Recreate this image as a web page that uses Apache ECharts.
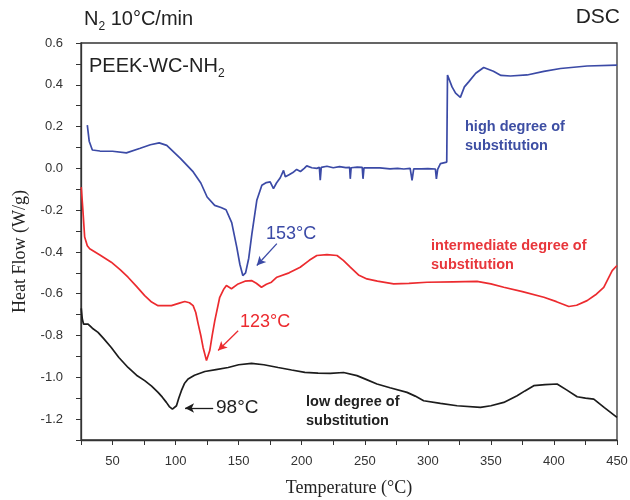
<!DOCTYPE html>
<html>
<head>
<meta charset="utf-8">
<script src="https://cdn.jsdelivr.net/npm/echarts@6/dist/echarts.min.js"></script>
<style>
  html, body { margin: 0; padding: 0; background: #fff; }
  #chart { width: 630px; height: 500px; }
</style>
</head>
<body>
<div id="chart"></div>
<script>
// temperature (°C) / heat flow (W/g)
const highT = [30, 31.5, 34, 40, 50, 61, 72, 80, 87, 93, 104, 114, 120, 125, 131, 136, 140, 144.5, 148.5, 151, 153.3, 155.5, 158, 160.5, 164.4, 168.4, 172, 175, 177.6, 180, 183, 185.6, 187, 190, 193, 196, 199, 202, 204, 208, 212, 214, 214.7, 215.5, 220, 225, 230, 235, 238, 238.5, 239.2, 244, 248, 248.6, 249.4, 255, 262, 270, 276, 281, 286, 287.5, 288.8, 295, 300, 306, 306.8, 307.8, 310, 315, 315.6, 319.2, 322, 325.8, 329, 332.4, 338, 344.3, 352, 358, 365.5, 378.7, 392, 405.2, 426.3, 450];
const highHF = [0.207, 0.13, 0.088, 0.083, 0.082, 0.074, 0.096, 0.113, 0.122, 0.11, 0.047, -0.017, -0.07, -0.137, -0.177, -0.187, -0.198, -0.26, -0.377, -0.46, -0.513, -0.5, -0.43, -0.313, -0.153, -0.081, -0.068, -0.065, -0.097, -0.07, -0.045, -0.01, -0.04, -0.03, -0.02, -0.005, -0.015, 0.0, 0.012, 0.003, 0.0, 0.005, -0.057, 0.005, 0.01, 0.003, 0.008, 0.004, 0.005, -0.05, 0.003, 0.006, 0.005, -0.05, 0.003, 0.002, 0.002, -0.002, 0.0, -0.003, 0.0, -0.057, -0.002, -0.002, -0.001, -0.003, -0.05, -0.005, 0.023, 0.03, 0.447, 0.39, 0.36, 0.34, 0.39, 0.414, 0.455, 0.483, 0.465, 0.445, 0.442, 0.447, 0.464, 0.478, 0.49, 0.494];

const midT = [25.2, 26.5, 27.9, 30, 31.9, 40, 49, 56, 62.3, 69, 75.5, 81, 86.1, 96.7, 103, 107.3, 111, 113.9, 116, 117.9, 120, 121.8, 124.5, 127.1, 129, 131.1, 135, 138, 140.3, 144.3, 149.6, 155, 160.2, 164, 168.1, 172, 176, 180.3, 190, 198.8, 206, 212, 220, 228, 233, 238.5, 245, 251.7, 260, 272.9, 285, 299.4, 320, 339, 350, 360.2, 375, 392, 402, 411.8, 418, 426.3, 433, 439.5, 446.2, 450];
const midHF = [-0.09, -0.2, -0.329, -0.37, -0.385, -0.415, -0.449, -0.485, -0.521, -0.565, -0.609, -0.64, -0.657, -0.657, -0.645, -0.637, -0.643, -0.657, -0.69, -0.744, -0.8, -0.857, -0.92, -0.872, -0.8, -0.729, -0.617, -0.58, -0.561, -0.576, -0.553, -0.54, -0.537, -0.55, -0.569, -0.555, -0.545, -0.521, -0.5, -0.473, -0.44, -0.417, -0.413, -0.417, -0.44, -0.473, -0.51, -0.529, -0.54, -0.553, -0.55, -0.545, -0.543, -0.541, -0.553, -0.569, -0.59, -0.617, -0.638, -0.661, -0.655, -0.633, -0.605, -0.569, -0.489, -0.465];

const lowT = [25.2, 26, 27, 28.5, 30.6, 34, 38.5, 43, 49, 55, 62.3, 69, 75.5, 81, 86.1, 89.5, 92.7, 95, 97.5, 99, 100.7, 102.5, 104.6, 107, 109.9, 115, 123.2, 132, 141.7, 150, 160.2, 170, 181.3, 192, 202.5, 213, 222.6, 233.2, 243.8, 251, 259.7, 270, 283.5, 290, 296.7, 310, 323.2, 341.7, 350, 360.2, 370.8, 377, 384, 393, 402.5, 410, 418.4, 425, 431.6, 440, 450];
const lowHF = [-0.67, -0.72, -0.745, -0.74, -0.745, -0.765, -0.785, -0.815, -0.857, -0.905, -0.953, -0.99, -1.016, -1.042, -1.072, -1.095, -1.12, -1.14, -1.152, -1.15, -1.136, -1.1, -1.064, -1.03, -1.008, -0.99, -0.972, -0.963, -0.953, -0.94, -0.933, -0.94, -0.953, -0.965, -0.976, -0.98, -0.981, -0.977, -0.992, -1.01, -1.032, -1.05, -1.072, -1.09, -1.112, -1.125, -1.136, -1.144, -1.136, -1.12, -1.088, -1.065, -1.04, -1.035, -1.032, -1.06, -1.093, -1.1, -1.104, -1.145, -1.192];

const BLUE = '#3b4aa6';
const RED = '#ec2b2f';
const BLACK = '#1c1c1c';
const sans = "'Liberation Sans', Arial, sans-serif";
const serif = "'Liberation Serif', 'Times New Roman', serif";

const pairs = (xs, ys) => xs.map((x, i) => [x, ys[i]]);

// arrow pointing at a peak, in data coordinates
function arrow(from, to, color) {
  return {
    silent: true,
    symbol: ['none', 'arrow'],
    symbolSize: [7, 9],
    label: { show: false },
    lineStyle: { color: color, width: 1.3, type: 'solid' },
    data: [[{ coord: from }, { coord: to }]]
  };
}

function curve(name, xs, ys, color, mark) {
  return {
    name: name,
    type: 'line',
    data: pairs(xs, ys),
    showSymbol: false,
    lineStyle: { color: color, width: 1.7 },
    itemStyle: { color: color },
    markLine: mark
  };
}

// text with a subscript part
function subText(main, sub, rest, size) {
  return {
    text: '{m|' + main + '}{s|' + sub + '}' + (rest ? '{m|' + rest + '}' : ''),
    rich: {
      m: { fontFamily: sans, fontSize: size, lineHeight: size + 4, fill: '#222' },
      s: { fontFamily: sans, fontSize: 12, lineHeight: 12, padding: [size - 4, 0, 0, 0], fill: '#222' }
    }
  };
}

const chart = echarts.init(document.getElementById('chart'));

const option = {
  animation: false,
  grid: {
    left: 81, right: 13, top: 43, bottom: 60,
    outerBoundsMode: 'none',
    show: true, borderColor: '#333', borderWidth: 1.3, backgroundColor: 'transparent'
  },
  xAxis: {
    type: 'value',
    min: 25, max: 450, interval: 25,
    name: 'Temperature (°C)',
    nameLocation: 'middle',
    nameGap: 39,
    nameTextStyle: { fontFamily: serif, fontSize: 18, color: '#222' },
    axisLine: { onZero: false, lineStyle: { color: '#333', width: 1.3 } },
    axisTick: { show: true, inside: false, length: 5, lineStyle: { color: '#333' } },
    axisLabel: {
      fontFamily: sans, fontSize: 13, color: '#333', margin: 15,
      formatter: v => (v % 50 === 0 ? String(v) : '')
    },
    splitLine: { show: false }
  },
  yAxis: {
    type: 'value',
    min: -1.3, max: 0.6, interval: 0.1,
    name: 'Heat Flow (W/g)',
    nameLocation: 'middle',
    nameGap: 52,
    nameRotate: 90,
    nameTextStyle: { fontFamily: serif, fontSize: 18, color: '#222', padding: [0, 20, 0, 0] },
    axisLine: { onZero: false, lineStyle: { color: '#333', width: 1.3 } },
    axisTick: { show: true, inside: false, length: 5, lineStyle: { color: '#333' } },
    axisLabel: {
      fontFamily: sans, fontSize: 13, color: '#333', margin: 18,
      formatter: v => (Math.round(v * 10) % 2 === 0 ? v.toFixed(1) : '')
    },
    splitLine: { show: false }
  },
  series: [
    curve('high degree of substitution', highT, highHF, BLUE,
      arrow([180.3, -0.36], [164.4, -0.465], BLUE)),
    curve('intermediate degree of substitution', midT, midHF, RED,
      arrow([149.6, -0.777], [133.7, -0.872], RED)),
    curve('low degree of substitution', lowT, lowHF, BLACK,
      arrow([129.8, -1.147], [107.5, -1.147], BLACK))
  ],
  graphic: [
    { type: 'text', left: 84, top: 5, style: subText('N', '2', ' 10°C/min', 20) },
    {
      type: 'text', right: 10, top: 7,
      style: { text: 'DSC', font: '21px ' + sans, fill: '#222' }
    },
    { type: 'text', left: 89, top: 52, style: subText('PEEK-WC-NH', '2', '', 20) },
    {
      type: 'text', left: 266, top: 225,
      style: { text: '153°C', font: '18px ' + sans, fill: BLUE }
    },
    {
      type: 'text', left: 240, top: 313,
      style: { text: '123°C', font: '18px ' + sans, fill: RED }
    },
    {
      type: 'text', left: 216, top: 398,
      style: { text: '98°C', font: '19px ' + sans, fill: '#222' }
    },
    {
      type: 'text', left: 465, top: 117,
      style: { text: 'high degree of\nsubstitution', font: 'bold 14.5px ' + sans, lineHeight: 19, fill: '#3d4ea3' }
    },
    {
      type: 'text', left: 431, top: 236,
      style: { text: 'intermediate degree of\nsubstitution', font: 'bold 14.5px ' + sans, lineHeight: 19, fill: '#e8363b' }
    },
    {
      type: 'text', left: 306, top: 392,
      style: { text: 'low degree of\nsubstitution', font: 'bold 14.5px ' + sans, lineHeight: 19, fill: '#222' }
    }
  ]
};

chart.setOption(option);
</script>
</body>
</html>
